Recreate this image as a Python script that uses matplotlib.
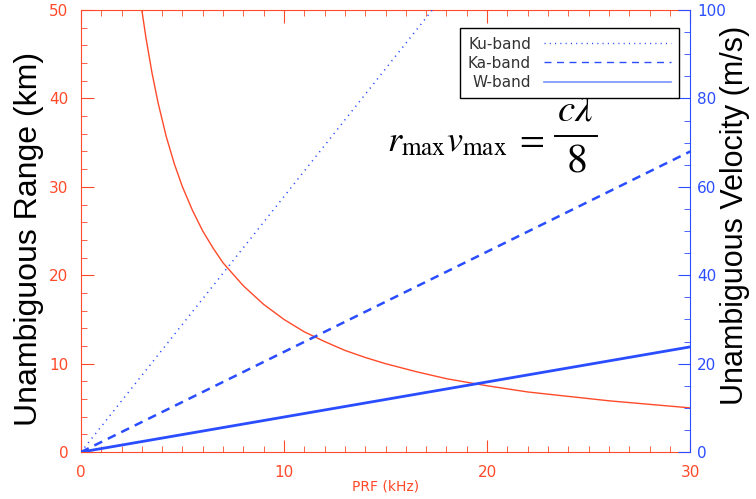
import matplotlib
matplotlib.use("Agg")
import matplotlib.pyplot as plt
from matplotlib.lines import Line2D
from matplotlib.ticker import MultipleLocator

# PRF (kHz) vs unambiguous range (km)
prf_range = [3.0, 3.2, 3.5, 3.8, 4.2, 4.6, 5.0, 5.5, 6.0, 6.5, 7.0, 8.0, 9.0,
             10.0, 11.0, 12.0, 13.0, 14.0, 15.0, 16.5, 18.0, 20.0, 22.0, 24.0,
             26.0, 28.0, 30.0]
r_max = [50.0, 46.9, 42.9, 39.5, 35.7, 32.6, 30.0, 27.3, 25.0, 23.1, 21.4, 18.8,
         16.7, 15.0, 13.6, 12.5, 11.5, 10.7, 10.0, 9.1, 8.3, 7.5, 6.8, 6.3, 5.8,
         5.4, 5.0]

# unambiguous velocity lines (m/s), endpoints
ku_prf = [0.0, 17.3]
ku_v = [0.0, 100.0]
ka_prf = [0.0, 30.0]
ka_v = [0.0, 68.0]
w_prf = [0.0, 30.0]
w_v = [0.0, 23.8]

band_labels = ["Ku-band", "Ka-band", "W-band"]

RED = "#ff4a2a"
BLUE = "#2a4dff"

plt.rcParams["mathtext.fontset"] = "stix"

fig = plt.figure(figsize=(7.56, 4.99), dpi=100)
ax = fig.add_axes([0.107, 0.094, 0.806, 0.886])
ax2 = ax.twinx()

ax.plot(prf_range, r_max, color=RED, lw=1.0)
ax2.plot(ku_prf, ku_v, color=BLUE, lw=1.1, linestyle=(0, (0.8, 3.0)))
ax2.plot(ka_prf, ka_v, color=BLUE, lw=1.8, dashes=(3.5, 2.5))
ax2.plot(w_prf, w_v, color=BLUE, lw=2.0)

ax.set_xlim(0, 30)
ax.set_ylim(0, 50)
ax2.set_ylim(0, 100)

ax.xaxis.set_major_locator(MultipleLocator(10))
ax.xaxis.set_minor_locator(MultipleLocator(1))
ax.yaxis.set_major_locator(MultipleLocator(10))
ax.yaxis.set_minor_locator(MultipleLocator(2))
ax2.yaxis.set_major_locator(MultipleLocator(20))
ax2.yaxis.set_minor_locator(MultipleLocator(5))

for side in ["left", "top", "bottom"]:
    ax.spines[side].set_color(RED)
ax.spines["right"].set_visible(False)
for side in ["left", "top", "bottom"]:
    ax2.spines[side].set_visible(False)
ax2.spines["right"].set_color(BLUE)

ax.tick_params(axis="both", which="both", direction="in", colors=RED,
               labelsize=11, top=True)
ax.tick_params(which="major", length=9, pad=9)
ax.tick_params(which="minor", length=4.5)
ax2.tick_params(axis="y", which="both", direction="in", colors=BLUE,
                labelsize=11)
ax2.tick_params(which="major", length=9, pad=5)
ax2.tick_params(which="minor", length=4.5)

ax.set_xlabel("PRF (kHz)", color=RED, fontsize=10, labelpad=0)
ax.set_ylabel("Unambiguous Range (km)", fontsize=23, family="Liberation Sans")
ax.yaxis.set_label_coords(-0.061, 0.482)
ax2.set_ylabel("Unambiguous Velocity (m/s)", fontsize=22,
               family="Liberation Sans")
ax2.yaxis.set_label_coords(1.049, 0.536)

handles = [
    Line2D([], [], color=BLUE, lw=1.0, linestyle=(0, (0.8, 3.0))),
    Line2D([], [], color=BLUE, lw=1.0, dashes=(5, 4)),
    Line2D([], [], color="#7a90ff", lw=1.2),
]
leg = ax2.legend(handles, band_labels, loc="upper right",
                 bbox_to_anchor=(0.982, 0.959), markerfirst=False,
                 fancybox=False, framealpha=1, edgecolor="black",
                 fontsize=11, handlelength=8.3, handletextpad=0.85,
                 labelspacing=0.28, borderpad=0.55, borderaxespad=0)
leg.get_frame().set_linewidth(1.0)
for t in leg.get_texts():
    t.set_color("#333333")

# relation r_max * v_max = c*lambda/8, with the fraction laid out by hand
ax2.text(0.761, 0.704, r"$r_{\mathrm{max}}v_{\mathrm{max}}\;=$",
         transform=ax2.transAxes, fontsize=26, ha="right", va="center")
ax2.text(0.811, 0.776, r"$c\lambda$", transform=ax2.transAxes,
         fontsize=28, ha="center", va="center")
ax2.text(0.813, 0.662, r"$8$", transform=ax2.transAxes,
         fontsize=30, ha="center", va="center")
ax2.plot([0.778, 0.847], [0.715, 0.715], transform=ax2.transAxes,
         color="black", lw=1.4, clip_on=False)

fig.savefig("out.png", dpi=100)
